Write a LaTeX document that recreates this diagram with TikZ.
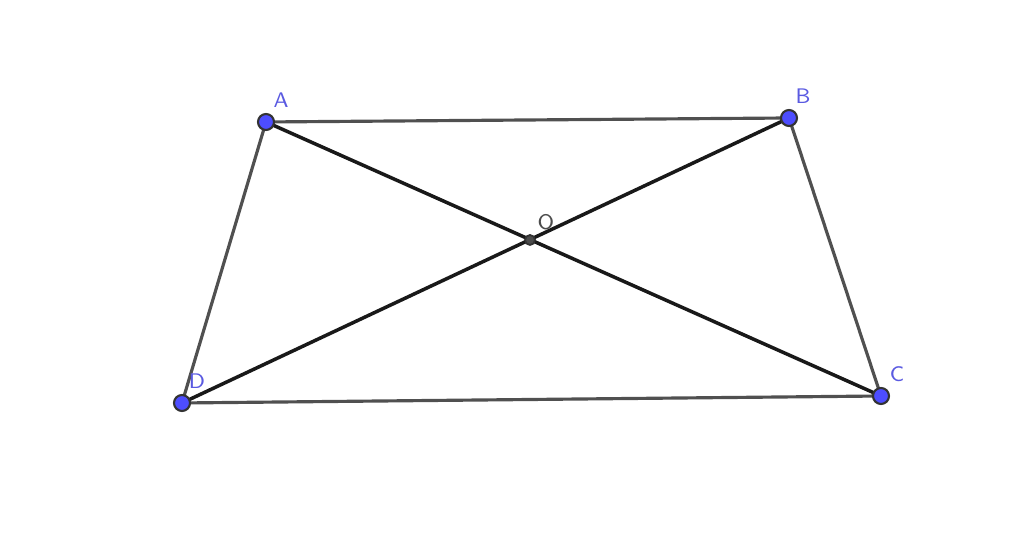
\documentclass[tikz,border=0pt]{standalone}
\usepackage{tikz}
\usetikzlibrary{positioning, calc}
\definecolor{ptblue}{RGB}{77,77,255}
\definecolor{lblblue}{RGB}{90,90,225}
\definecolor{sidegray}{RGB}{80,80,80}
\begin{document}
\begin{tikzpicture}[every node/.style={font=\fontsize{6}{7}\sffamily},
  pt/.style={circle, draw=black!80, fill=ptblue, line width=0.6pt, inner sep=0pt, minimum size=0.16cm},
  mid/.style={circle, draw=black!80, fill=black!70, line width=0.5pt, inner sep=0pt, minimum size=0.1cm},
  lbl/.style={text=lblblue, inner sep=0pt},
  side/.style={draw=sidegray, line width=0.9pt},
  diag/.style={draw=black!90, line width=1pt}]
  \useasboundingbox (0,0) rectangle (10.24,5.35);
  % Points
  \coordinate (A) at (2.66, 4.13);
  \coordinate (B) at (7.89, 4.17);
  \coordinate (C) at (8.81, 1.39);
  \coordinate (D) at (1.82, 1.32);
  \coordinate (O) at (5.30, 2.95);

  % Sides
  \draw[side] (A) -- (B) -- (C) -- (D) -- cycle;

  % Diagonals
  \draw[diag] (A) -- (C);
  \draw[diag] (B) -- (D);

  % Dots
  \node[pt] (a) at (A) {};
  \node[pt] (b) at (B) {};
  \node[pt] (c) at (C) {};
  \node[pt] (d) at (D) {};
  \node[mid] (o) at (O) {};

  % Labels
  \node[lbl] (la) at (2.81, 4.35) {A};
  \node[lbl] (lb) at (8.03, 4.39) {B};
  \node[lbl] (lc) at (8.97, 1.61) {C};
  \node[lbl] (ld) at (1.97, 1.54) {D};
  \node[lbl, text=black!70] (lo) at (5.46, 3.13) {O};
\end{tikzpicture}
\end{document}
